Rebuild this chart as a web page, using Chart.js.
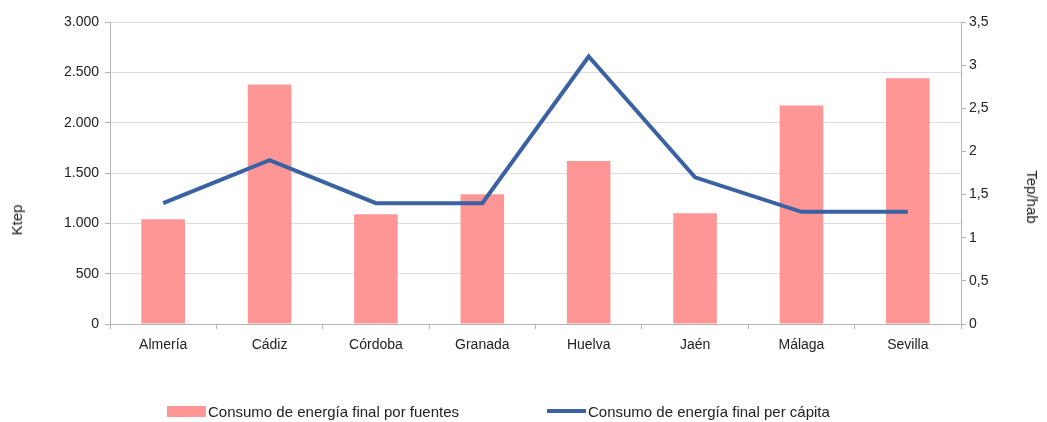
<!DOCTYPE html>
<html>
<head>
<meta charset="utf-8">
<script src="https://cdn.jsdelivr.net/npm/chart.js@4.4.1/dist/chart.umd.min.js"></script>
<style>
  html, body { margin: 0; padding: 0; background: #fff; }
  #caja { position: relative; width: 1047px; height: 422px;
    font-family: "Liberation Sans", Arial, sans-serif; color: #222; }
  #leyenda { position: absolute; top: 402px; left: 0; width: 1047px; height: 18px; font-size: 15px; }
  .item { position: absolute; top: 0; display: flex; align-items: center; height: 18px; }
  .marca { display: inline-block; width: 39px; margin-right: 2px; }
  .titulo { position: absolute; font-size: 15px; white-space: nowrap; line-height: 18px; }
</style>
</head>
<body>
<div id="caja">
  <canvas id="grafico" width="1047" height="422"></canvas>
  <div id="leyenda"></div>
  <div class="titulo" id="tit-izq"></div>
  <div class="titulo" id="tit-der"></div>
</div>
<script>
// ── DATOS ──
const provincias = ['Almería', 'Cádiz', 'Córdoba', 'Granada', 'Huelva', 'Jaén', 'Málaga', 'Sevilla']
const consumoFuentes = [1040, 2380, 1090, 1290, 1620, 1100, 2170, 2440]   // Ktep
const consumoPerCapita = [1.4, 1.9, 1.4, 1.4, 3.1, 1.7, 1.3, 1.3]          // Tep/hab
const nombreBarras = 'Consumo de energía final por fuentes'
const nombreLinea = 'Consumo de energía final per cápita'
const tituloIzq = 'Ktep'
const tituloDer = 'Tep/hab'

const colorBarra = '#ff9696'
const colorLinea = '#3a62a2'
const colorEje = '#b3b3b3'
const colorRejilla = '#dcdcdc'

Chart.defaults.color = '#222'
Chart.defaults.font = { family: '"Liberation Sans", Arial, sans-serif', size: 14 }

const miles = v => String(v).replace(/\B(?=(\d{3})+(?!\d))/g, '.')
const decimal = v => String(Math.round(v * 10) / 10).replace('.', ',')

new Chart(document.getElementById('grafico'), {
  data: {
    labels: provincias,
    datasets: [
      {
        type: 'line',
        label: nombreLinea,
        data: consumoPerCapita,
        yAxisID: 'y1',
        borderColor: colorLinea,
        borderWidth: 4,
        pointRadius: 0,
        tension: 0,
        order: 0
      },
      {
        type: 'bar',
        label: nombreBarras,
        data: consumoFuentes,
        yAxisID: 'y',
        backgroundColor: colorBarra,
        borderWidth: 0,
        categoryPercentage: 1,
        barPercentage: 0.41,
        order: 1
      }
    ]
  },
  options: {
    responsive: false,
    animation: false,
    layout: { padding: { top: 22, left: 0, right: 0, bottom: 0 } },
    plugins: { legend: { display: false }, tooltip: { enabled: false } },
    scales: {
      x: {
        offset: true,
        grid: { offset: true, drawOnChartArea: false, color: colorEje, tickLength: 5 },
        border: { color: colorEje },
        ticks: { padding: 8, maxRotation: 0 },
        afterFit: s => { s.height = 98 }
      },
      y: {
        position: 'left',
        min: 0, max: 3000,
        ticks: { stepSize: 500, padding: 6, callback: v => miles(v) },
        grid: { color: colorRejilla, tickColor: colorEje, tickLength: 5 },
        border: { color: colorEje },
        afterFit: s => { s.width = 110 }
      },
      y1: {
        position: 'right',
        min: 0, max: 3.5,
        ticks: { stepSize: 0.5, padding: 3, callback: v => decimal(v) },
        grid: { drawOnChartArea: false, color: colorEje, tickLength: 5 },
        border: { color: colorEje },
        afterFit: s => { s.width = 86 }
      }
    }
  }
})

// ── TITULOS DE EJE ──
const izq = document.getElementById('tit-izq')
izq.textContent = tituloIzq
izq.style.left = '17px'
izq.style.top = '220px'
izq.style.transform = 'translate(-50%, -50%) rotate(-90deg)'

const der = document.getElementById('tit-der')
der.textContent = tituloDer
der.style.left = '1032px'
der.style.top = '197px'
der.style.transform = 'translate(-50%, -50%) rotate(90deg)'

// ── LEYENDA ──
const leyenda = document.getElementById('leyenda')
leyenda.innerHTML = `
  <div class="item" style="left:167px">
    <span class="marca" style="height:11px; background:${colorBarra}"></span>${nombreBarras}
  </div>
  <div class="item" style="left:547px">
    <span class="marca" style="height:4px; background:${colorLinea}"></span>${nombreLinea}
  </div>
`
</script>
</body>
</html>
